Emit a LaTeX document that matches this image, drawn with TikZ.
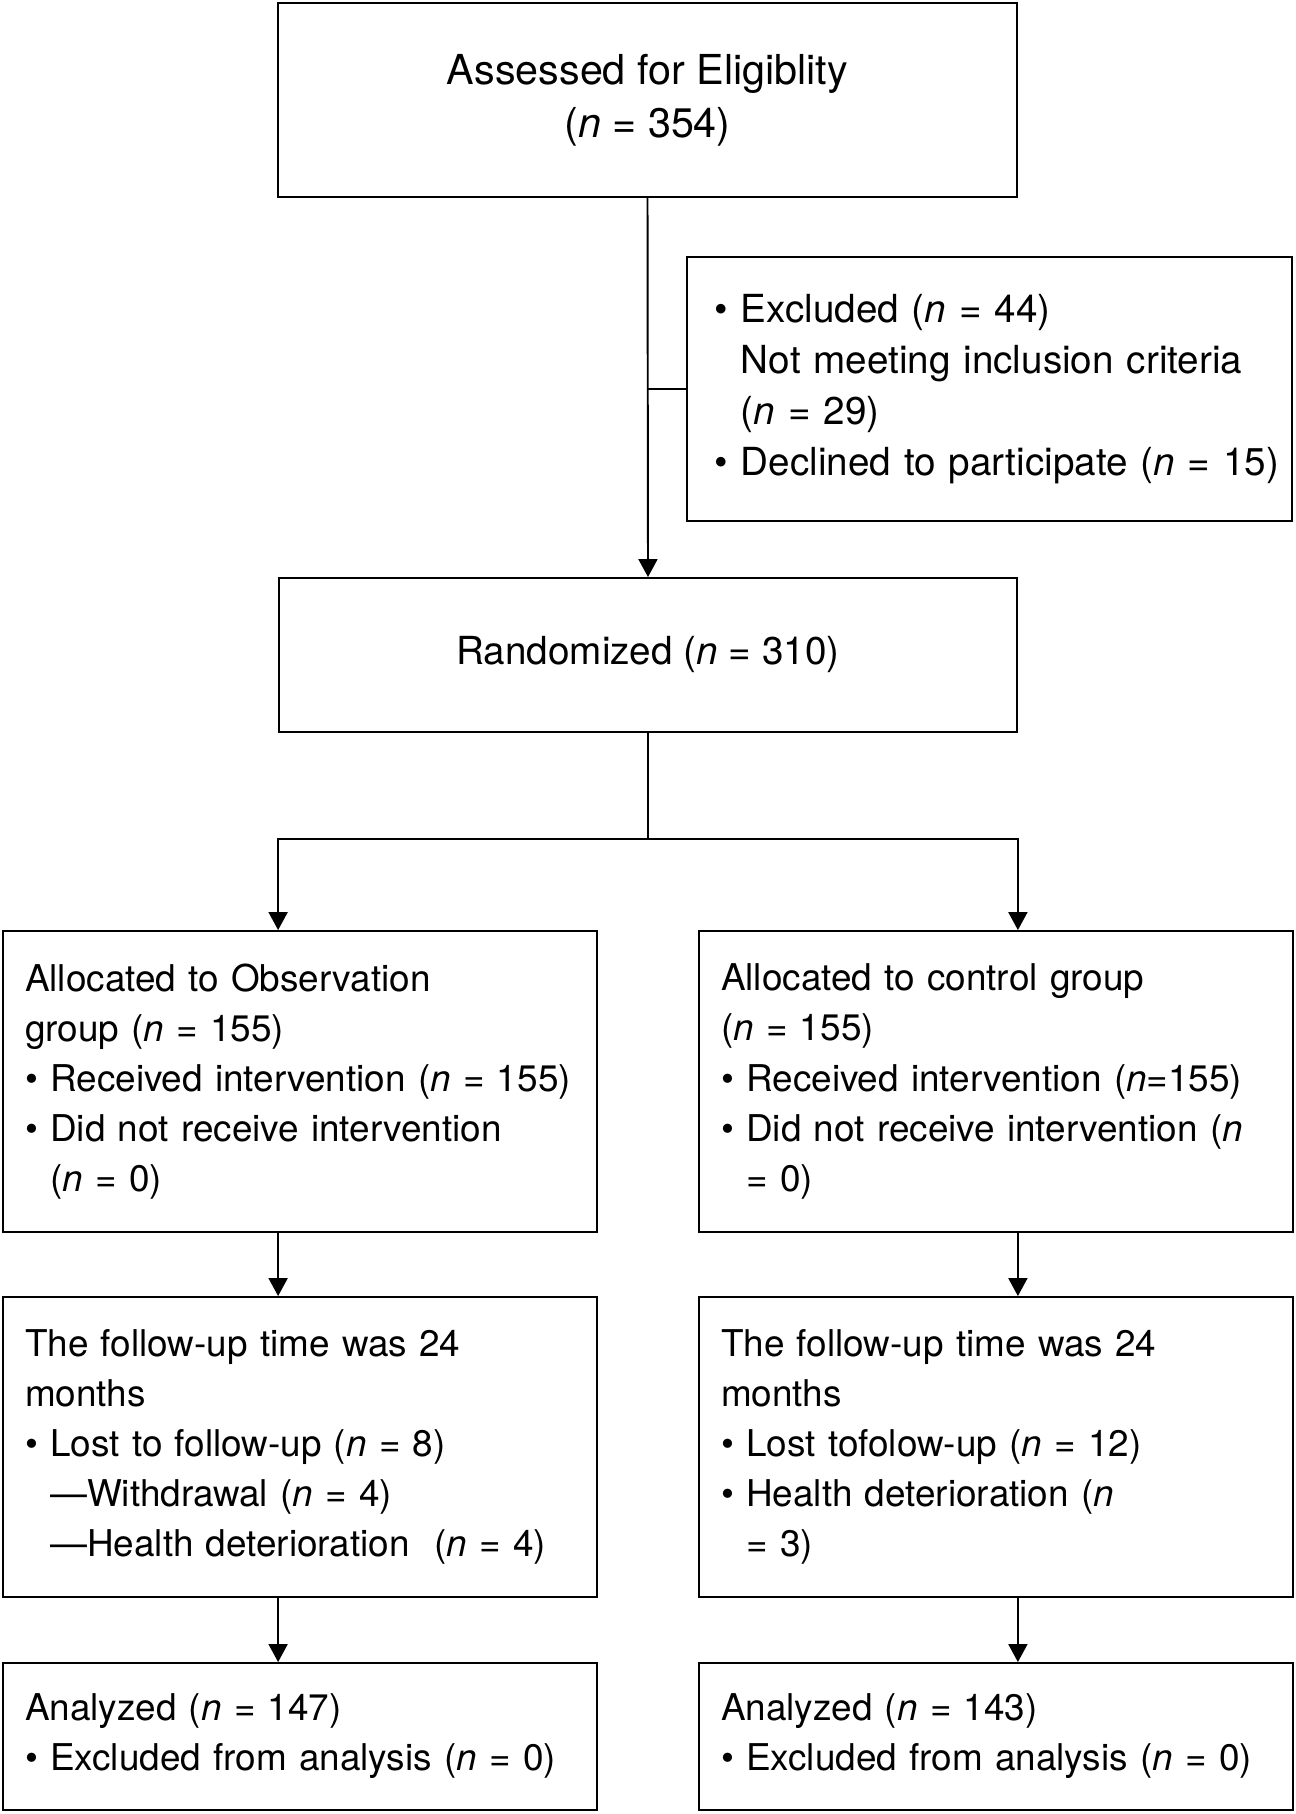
\documentclass[tikz,border=0pt]{standalone}
\usepackage{fontspec}
\setmainfont{TeX Gyre Heros}
\usetikzlibrary{arrows.meta}

\newcommand{\nn}{\textit{n}}
\newcommand{\bul}{\textbullet\ }
\newcommand{\hang}{\hphantom{\textbullet\ }}

\begin{document}
\begin{tikzpicture}[x=0.02cm,y=-0.02cm,line width=1.1pt,>={Triangle[length=3.6mm,width=3.8mm]},
  cbox/.style={draw,align=center,font=\fontsize{23.5}{30}\selectfont},
  xbox/.style={draw,align=left,inner xsep=0.55cm,text width=11.0cm,minimum height=5.28cm,font=\fontsize{22}{29}\selectfont},
  gbox/.style={draw,align=left,inner xsep=0.44cm,text width=11.0cm,font=\fontsize{21}{28.5}\selectfont}]
  \useasboundingbox (0,0) rectangle (1295,1814);
  \node[cbox,minimum width=14.78cm,minimum height=3.88cm] (elig) at (647.5,100) {Assessed for Eligiblity\\(\nn{} = 354)};
  \node[xbox] (excl) at (989.5,389) {\bul Excluded (\nn{} = 44)\\\mbox{\hang Not meeting inclusion criteria}\\\hang(\nn{} = 29)\\\mbox{\bul Declined to participate (\nn{} = 15)}};
  \node[cbox,minimum width=14.76cm,minimum height=3.08cm,font=\fontsize{22}{28}\selectfont] (rand) at (648,655) {Randomized (\nn{} = 310)};
  \coordinate (split) at (648,839);
  \node[gbox,minimum height=6.02cm] (obs1) at (300,1081.5) {Allocated to Observation\\group (\nn{} = 155)\\\bul Received intervention (\nn{} = 155)\\\bul Did not receive intervention\\\hang(\nn{} = 0)};
  \node[gbox,minimum height=6.02cm] (ctl1) at (996,1081.5) {Allocated to control group\\(\nn{} = 155)\\\bul Received intervention (\nn{}=155)\\\bul Did not receive intervention (\nn\\\hang= 0)};
  \node[gbox,minimum height=6.0cm] (obs2) at (300,1447) {The follow-up time was 24\\months\\\bul Lost to follow-up (\nn{} = 8)\\\hang---Withdrawal (\nn{} = 4)\\\hang---Health deterioration\ \ (\nn{} = 4)};
  \node[gbox,minimum height=6.0cm] (ctl2) at (996,1447) {The follow-up time was 24\\months\\\bul Lost tofolow-up (\nn{} = 12)\\\bul Health deterioration (\nn\\\hang= 3)};
  \node[gbox,minimum height=2.94cm] (obs3) at (300,1736.5) {Analyzed (\nn{} = 147)\\\bul Excluded from analysis (\nn{} = 0)};
  \node[gbox,minimum height=2.94cm] (ctl3) at (996,1736.5) {Analyzed (\nn{} = 143)\\\bul Excluded from analysis (\nn{} = 0)};
  \draw[->] (elig.south) -- (rand.north);
  \draw (excl.west) -- (excl.west -| elig.south);
  \draw (rand.south) -- (split);
  \draw[->] (split) -| (obs1.north -| rand.west);
  \draw[->] (split) -| (ctl1.north -| rand.east);
  \draw[->] (obs1.south -| rand.west) -- (obs2.north -| rand.west);
  \draw[->] (ctl1.south -| rand.east) -- (ctl2.north -| rand.east);
  \draw[->] (obs2.south -| rand.west) -- (obs3.north -| rand.west);
  \draw[->] (ctl2.south -| rand.east) -- (ctl3.north -| rand.east);
\end{tikzpicture}
\end{document}
